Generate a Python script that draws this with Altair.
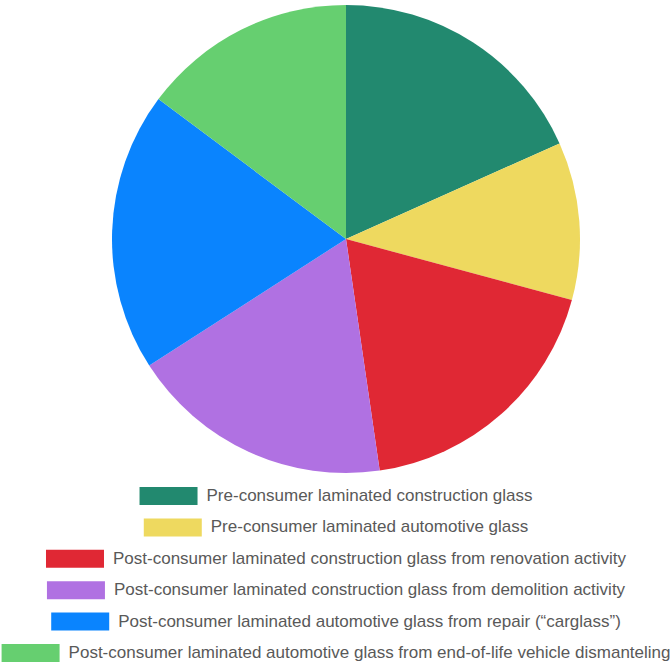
import altair as alt
import pandas as pd

categories = [
    "Pre-consumer laminated construction glass",
    "Pre-consumer laminated automotive glass",
    "Post-consumer laminated construction glass from renovation activity",
    "Post-consumer laminated construction glass from demolition activity",
    "Post-consumer laminated automotive glass from repair (\u201ccarglass\u201d)",
    "Post-consumer laminated automotive glass from end-of-life vehicle dismanteling",
]
shares = [18.3, 10.9, 18.5, 18.2, 19.3, 14.8]
colors = ["#22896f", "#eed95f", "#e02834", "#b071e2", "#0a84fe", "#66cf70"]

W, H = 672, 665
FONT = "Liberation Sans"
FS = 17
SW_W, SW_H, GAP = 58, 18, 9

# Arial / Liberation Sans advance widths (1/1000 em)
AW = {" ": 278, "(": 333, ")": 333, "\u201c": 333, "\u201d": 333, "\"": 355, "-": 333,
      "P": 667, "a": 556, "b": 556, "c": 500, "d": 556, "e": 556, "f": 278, "g": 556,
      "h": 556, "i": 222, "j": 222, "k": 500, "l": 222, "m": 833, "n": 556, "o": 556,
      "p": 556, "q": 556, "r": 333, "s": 500, "t": 278, "u": 556, "v": 500, "w": 722,
      "x": 500, "y": 500, "z": 500}


def text_width(s):
    return sum(AW.get(ch, 556) for ch in s) * FS / 1000.0


df = pd.DataFrame({"cat": categories, "share": shares, "idx": list(range(len(categories)))})
tot = [SW_W + GAP + text_width(c) for c in categories]
df["sx"] = [W / 2 - t / 2 for t in tot]
df["sx2"] = df["sx"] + SW_W
df["tx"] = df["sx2"] + GAP

color_scale = alt.Scale(domain=categories, range=colors)

pie = alt.Chart(df).mark_arc(radius=234, strokeWidth=0).encode(
    theta=alt.Theta("share:Q", stack=True),
    color=alt.Color("cat:N", scale=color_scale, legend=None),
    order=alt.Order("idx:Q"),
    x=alt.value(346),
    y=alt.value(239),
)

yenc = alt.Y("cat:N", sort=categories, axis=None,
             scale=alt.Scale(type="point", domain=categories, range=[496, 653], padding=0))

sw = alt.Chart(df).mark_bar(height=SW_H).encode(
    x=alt.X("sx:Q", scale=None, axis=None),
    x2="sx2:Q",
    y=yenc,
    color=alt.Color("cat:N", scale=color_scale, legend=None),
)

txt = alt.Chart(df).mark_text(align="left", baseline="middle", font=FONT, fontSize=FS,
                              color="#595959").encode(
    x=alt.X("tx:Q", scale=None, axis=None),
    y=yenc,
    text="cat:N",
)

chart = alt.layer(pie, sw, txt).properties(
    width=W, height=H, padding=0, autosize=alt.AutoSizeParams(type="none"),
    background="white",
).configure_view(strokeWidth=0)

chart.save("out.html", embed_options={"renderer": "svg", "actions": False})
